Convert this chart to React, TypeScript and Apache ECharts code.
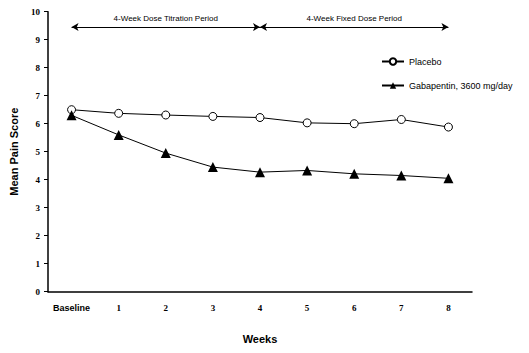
import React, { useEffect, useRef } from "react";
import * as echarts from "echarts";

const categories = ["Baseline", "1", "2", "3", "4", "5", "6", "7", "8"];
const placebo = [6.5, 6.37, 6.31, 6.26, 6.22, 6.03, 6.0, 6.15, 5.88];
const gabapentin = [6.3, 5.6, 4.95, 4.45, 4.27, 4.33, 4.21, 4.15, 4.05];
const seriesNames = ["Placebo", "Gabapentin, 3600 mg/day"];
const periods = [
  { label: "4-Week Dose Titration Period", from: "Baseline", to: "4" },
  { label: "4-Week Fixed Dose Period", from: "4", to: "8" },
];
const periodLevel = 9.45;

export default function App() {
  const ref = useRef<HTMLDivElement>(null);
  useEffect(() => {
    const chart = echarts.init(ref.current!, null, { renderer: "svg" });
    const sans = "Liberation Sans, Arial, sans-serif";
    const serif = "Liberation Serif, Times New Roman, serif";
    chart.setOption({
      animation: false,
      backgroundColor: "#fff",
      grid: { left: 41, top: 11.7, width: 431, height: 280 },
      legend: {
        orient: "vertical",
        left: 376,
        top: 52,
        itemWidth: 22,
        itemHeight: 8,
        itemGap: 15,
        textStyle: { fontFamily: sans, fontSize: 9, color: "#000" },
        data: seriesNames,
      },
      xAxis: {
        type: "category",
        data: categories,
        boundaryGap: true,
        axisLine: { lineStyle: { color: "#000", width: 1.5 } },
        axisTick: { show: false },
        axisLabel: {
          interval: 0,
          margin: 12,
          fontFamily: serif,
          fontWeight: "bold",
          fontSize: 9,
          color: "#000",
          formatter: (v: string) => (v === "Baseline" ? "{b|Baseline}" : v),
          rich: { b: { fontFamily: sans, fontWeight: "bold", fontSize: 9, color: "#000" } },
        },
        name: "Weeks",
        nameLocation: "middle",
        nameGap: 42,
        nameTextStyle: { fontFamily: sans, fontWeight: "bold", fontSize: 11, color: "#000" },
      },
      yAxis: {
        type: "value",
        min: 0,
        max: 10,
        interval: 1,
        splitLine: { show: false },
        axisLine: { show: true, lineStyle: { color: "#000", width: 1.5 } },
        axisTick: { show: true, length: 4, lineStyle: { color: "#000" } },
        axisLabel: { margin: 8, fontFamily: serif, fontWeight: "bold", fontSize: 9, color: "#000" },
        name: "Mean Pain Score",
        nameLocation: "middle",
        nameGap: 29,
        nameTextStyle: { fontFamily: sans, fontWeight: "bold", fontSize: 11, color: "#000" },
      },
      series: [
        {
          name: seriesNames[0],
          type: "line",
          data: placebo,
          symbol: "circle",
          symbolSize: 8,
          itemStyle: { color: "#fff", borderColor: "#000", borderWidth: 1 },
          lineStyle: { color: "#000", width: 1 },
          markLine: {
            silent: true,
            symbol: ["arrow", "arrow"],
            symbolSize: [6, 7],
            lineStyle: { color: "#000", width: 1, type: "solid" },
            label: {
              show: true,
              position: "middle",
              formatter: "{b}",
              fontFamily: sans,
              fontSize: 8,
              color: "#000",
              backgroundColor: "#fff",
              padding: [0, 5],
            },
            data: periods.map((p) => [
              { name: p.label, coord: [p.from, periodLevel] },
              { coord: [p.to, periodLevel] },
            ]),
          },
        },
        {
          name: seriesNames[1],
          type: "line",
          data: gabapentin,
          symbol: "triangle",
          symbolSize: 10,
          itemStyle: { color: "#000" },
          lineStyle: { color: "#000", width: 1 },
        },
      ],
    });
    return () => chart.dispose();
  }, []);
  return (
    <div
      ref={ref}
      style={{ position: "fixed", left: 0, top: 0, width: 529, height: 353 }}
    />
  );
}
